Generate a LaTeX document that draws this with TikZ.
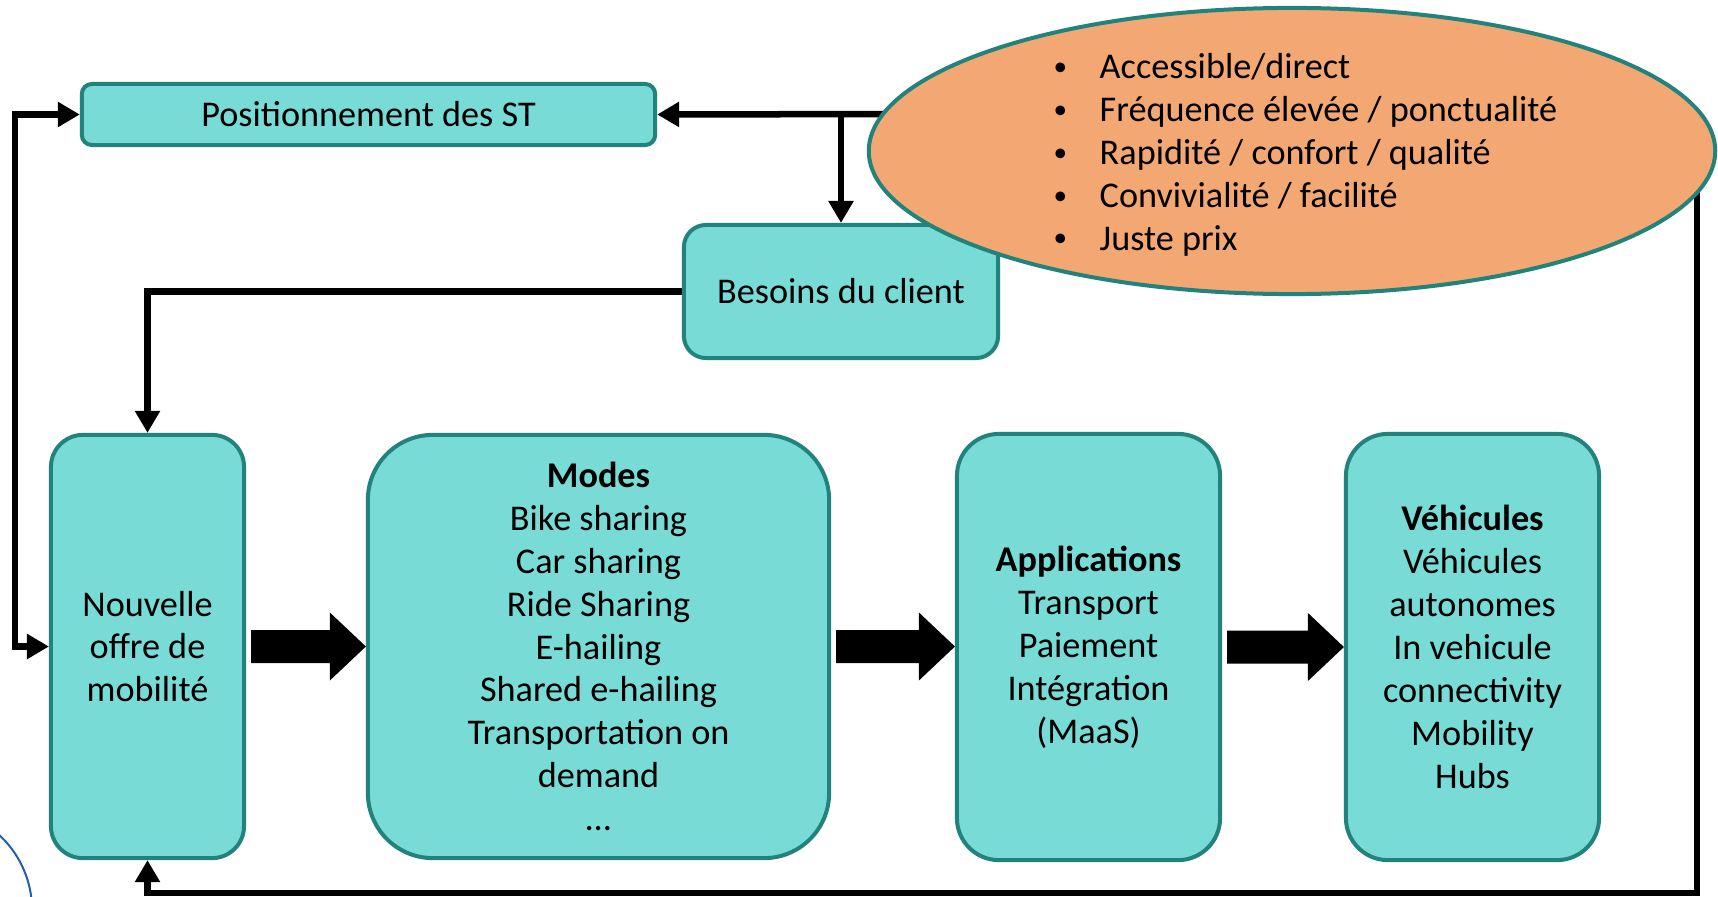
\documentclass[tikz,border=0pt]{standalone}
\usepackage{fontspec}
\setmainfont{Carlito}
\usetikzlibrary{arrows.meta,calc,shapes.geometric}
\pgfdeclarelayer{background}
\pgfsetlayers{background,main}
\definecolor{boxfill}{HTML}{78DBD6}
\definecolor{boxline}{HTML}{22837D}
\definecolor{ellfill}{HTML}{F3A873}
\definecolor{arcblue}{HTML}{1F5FB5}
\tikzset{
  box/.style={draw=boxline, line width=0.04cm, fill=boxfill, inner sep=0pt, align=center,
    font=\fontsize{10.3pt}{12.2pt}\selectfont},
  conn/.style={draw=black, line width=0.065cm},
  tip/.style={-{Triangle[width=0.24cm,length=0.22cm]}},
  dtip/.style={{Triangle[width=0.24cm,length=0.22cm]}-{Triangle[width=0.24cm,length=0.22cm]}},
}
\newcommand\bigarrow[2]{%
  \path (#1.east) coordinate (ba) (#1.east -| #2.west) coordinate (bb);
  \fill[black] ($(ba)+(5,-16.5)$) -- ($(bb)+(-36,-16.5)$) -- ($(bb)+(-36,-34)$) -- (bb)
    -- ($(bb)+(-36,34)$) -- ($(bb)+(-36,16.5)$) -- ($(ba)+(5,16.5)$) -- cycle;}
\newcommand\bul{\raisebox{0.2ex}{\scalebox{0.75}{•}}}
\begin{document}
\begin{tikzpicture}[x=0.01cm,y=-0.01cm]
\useasboundingbox (0,0) rectangle (1718,897);

% boxes
\node[box, rounded corners=0.1cm, minimum width=5.73cm, minimum height=0.61cm] (pos) at (368.5,114.5) {Positionnement des ST};
\node[box, rounded corners=0.22cm, minimum width=3.14cm, minimum height=1.33cm] (bes) at (841,291.5) {Besoins du client};
\node[box, rounded corners=0.32cm, minimum width=1.93cm, minimum height=4.23cm] (nouv) at (147.5,646.5) {Nouvelle\\offre de\\mobilité};
\node[box, rounded corners=0.65cm, minimum width=4.61cm, minimum height=4.23cm] (modes) at (598.5,646.5) {\textbf{Modes}\\Bike sharing\\Car sharing\\Ride Sharing\\E-hailing\\Shared e-hailing\\Transportation on\\demand\\…};
\node[box, rounded corners=0.42cm, minimum width=2.63cm, minimum height=4.26cm] (apps) at (1088.5,647) {\textbf{Applications}\\Transport\\Paiement\\Intégration\\(MaaS)};
\node[box, rounded corners=0.42cm, minimum width=2.53cm, minimum height=4.26cm] (veh) at (1472.5,647) {\textbf{Véhicules}\\Véhicules\\autonomes\\In vehicule\\connectivity\\Mobility\\Hubs};

% ellipse
\node[ellipse, draw=boxline, line width=0.04cm, fill=ellfill, minimum width=8.46cm, minimum height=2.86cm, inner sep=0pt] (ell) at (1292,151) {};
\node[anchor=west, inner sep=0pt, font=\fontsize{10.3pt}{12.2pt}\selectfont] (crit) at (1053,156)
  {\begin{tabular}{@{}p{0.46cm}@{}l@{}}
  \bul & Accessible/direct\\
  \bul & Fréquence élevée / ponctualité\\
  \bul & Rapidité / confort / qualité\\
  \bul & Convivialité / facilité\\
  \bul & Juste prix
  \end{tabular}};

% connectors
\begin{pgfonlayer}{background}
\coordinate (t0) at (900,114);
\coordinate (tj) at (bes.north |- pos.east);
\draw[conn, tip] (t0) -- (pos.east);
\draw[conn, tip] (tj) -- (bes.north);
\draw[conn, tip] (bes.west) -| (nouv.north);
\coordinate (r0) at (1697,180);
\coordinate (r1) at (1697,893);
\draw[conn, tip] (r0) -- (r1) -| (nouv.south);
\coordinate (l0) at (15,646.5);
\draw[conn, dtip] (nouv.west) -- (l0) |- (pos.west);
\end{pgfonlayer}

% block arrows
\bigarrow{nouv}{modes}
\bigarrow{modes}{apps}
\bigarrow{apps}{veh}

% blue arc fragment
\begin{scope}
\clip (0,0) rectangle (1718,897);
\draw[arcblue, line width=0.02cm] (-70,910) circle (1.02cm);
\end{scope}
\end{tikzpicture}
\end{document}
